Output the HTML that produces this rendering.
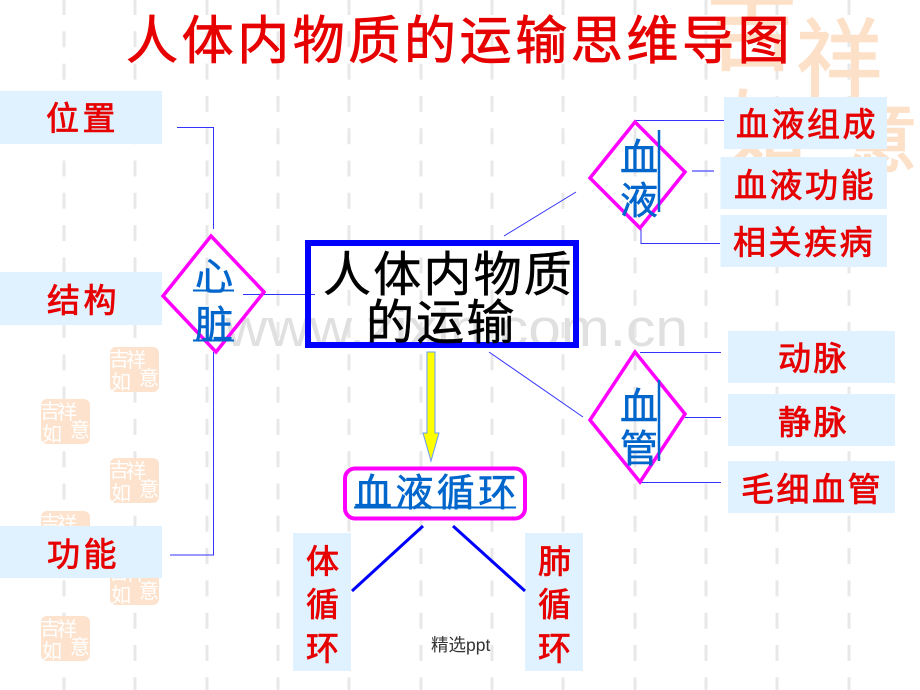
<!DOCTYPE html>
<html lang="zh"><head><meta charset="utf-8"><title>人体内物质的运输思维导图</title>
<style>
html,body{margin:0;padding:0;background:#fff}
svg{display:block}
text{font-family:"Liberation Sans","Noto Sans CJK SC","Noto Serif CJK SC",sans-serif}
.r{fill:#e60000;stroke:#e60000;stroke-width:.8px}
.bx{fill:#e0f2ff}
.l{stroke:#3333ff;stroke-width:1;fill:none}
.d{fill:none;stroke:#ff00ff;stroke-width:3.5}
.b{fill:#0066cc;stroke:#0066cc;stroke-width:.6px}
.s{fill:#fde3cd}
.sw{fill:#fff;font-size:20px}
.big{fill:#fde0c8;stroke:#fde0c8;stroke-width:1.5px}
</style></head><body>
<svg width="920" height="690" viewBox="0 0 920 690" xmlns="http://www.w3.org/2000/svg">
<rect width="920" height="690" fill="#fff"/>
<g stroke="#e8e8e8" stroke-width="3" stroke-dasharray="16 16.3" stroke-dashoffset="1">
<path d="M64 0V690M135 0V690M207 0V690M278 0V690M349 0V690M421 0V690M492 0V690M563 0V690M635 0V690M706 0V690M777 0V690M849 0V690"/>
</g>
<!-- big seal -->
<text class="big" x="706" y="62" font-size="92">吉</text>
<text class="big" x="796" y="90" font-size="86">祥</text>
<text class="big" x="722" y="160" font-size="84">如</text>
<text class="big" x="842" y="166" font-size="76">意</text>
<!-- stamps -->
<defs>
<g id="st">
<rect width="49" height="45" rx="6" class="s"/>
<text class="sw" x="-1" y="19">吉</text>
<text class="sw" x="16" y="20">祥</text>
<text class="sw" x="1" y="42">如</text>
<text class="sw" x="29" y="38">意</text>
</g>
</defs>
<use href="#st" x="110" y="347"/>
<use href="#st" x="41" y="399"/>
<use href="#st" x="110" y="458"/>
<use href="#st" x="41" y="511"/>
<use href="#st" x="110" y="560"/>
<use href="#st" x="41" y="616"/>
<!-- watermark -->
<text x="225" y="346" font-size="53" fill="#e0e0e0" textLength="463" lengthAdjust="spacingAndGlyphs">www.zixin.com.cn</text>
<!-- title -->
<text class="r" x="126" y="59" font-size="52" letter-spacing="3.6">人体内物质的运输思维导图</text>
<!-- boxes -->
<rect class="bx" x="0" y="91" width="162" height="53"/>
<rect class="bx" x="0" y="272" width="162" height="53"/>
<rect class="bx" x="0" y="526" width="162" height="52"/>
<rect class="bx" x="724" y="97" width="163" height="52"/>
<rect class="bx" x="720.5" y="157" width="166.5" height="52"/>
<rect class="bx" x="720.5" y="215" width="166.5" height="52"/>
<rect class="bx" x="728" y="331" width="167" height="52"/>
<rect class="bx" x="728" y="394" width="167" height="52"/>
<rect class="bx" x="728" y="461" width="167" height="52"/>
<rect class="bx" x="293" y="533" width="58" height="138"/>
<rect class="bx" x="525" y="533" width="58" height="138"/>
<!-- box labels -->
<g class="r" font-size="33">
<text x="46" y="130" letter-spacing="3.5">位置</text>
<text x="47" y="312" letter-spacing="3.5">结构</text>
<text x="47" y="566" letter-spacing="3.5">功能</text>
<text x="736" y="136" letter-spacing="2.5">血液组成</text>
<text x="734" y="197" letter-spacing="2.5">血液功能</text>
<text x="733" y="254" letter-spacing="2.5">相关疾病</text>
<text x="778" y="370" letter-spacing="2.5">动脉</text>
<text x="778" y="434" letter-spacing="2.5">静脉</text>
<text x="741" y="501" letter-spacing="2.5">毛细血管</text>
<text x="306" y="573">体</text>
<text x="306" y="616">循</text>
<text x="306" y="660">环</text>
<text x="538" y="573">肺</text>
<text x="538" y="616">循</text>
<text x="538" y="660">环</text>
</g>
<!-- thin connectors -->
<path class="l" d="M177 127.5H213.500V229M213.500 352V555H170"/>
<path class="l" d="M243 294.500H315M504 236L576 192M636 120.500H724M641 228V243.500H720M489 352L583 417M640 352.500H721M685 417.500H721M640 482.500H721"/>
<path d="M692 171H714" stroke="#6666ff" stroke-width="1.500"/>
<!-- diamonds -->
<path class="d" d="M211 236L264 292L216 352L163 296Z"/>
<path class="d" d="M635 122L685 172L640 228L590 178Z"/>
<path class="d" d="M635 352L685 414L640 482L590 420Z"/>
<!-- diamond text -->
<g class="b" font-size="38">
<text x="195" y="290">心</text>
<text x="195" y="338">脏</text>
<text x="620" y="171">血</text>
<text x="620" y="214">液</text>
<text x="620" y="420">血</text>
<text x="620" y="462">管</text>
</g>
<path d="M193 290.500H234M193 340.500H234" stroke="#0066cc" stroke-width="2"/>
<path d="M659 130V212M659 380V461" stroke="#0066cc" stroke-width="2.500"/>
<!-- center -->
<rect x="308" y="243" width="268" height="102" fill="none" stroke="#0000ff" stroke-width="6"/>
<text x="323" y="291" font-size="48" fill="#000" stroke="#000" stroke-width=".5" letter-spacing="2.200">人体内物质</text>
<text x="366" y="339" font-size="48" fill="#000" stroke="#000" stroke-width=".5" letter-spacing="2.200">的运输</text>
<!-- arrow -->
<path d="M427 352H435V433H439L431 461L423 433H427Z" fill="#ffff00" stroke="#6699ff" stroke-width="1"/>
<!-- circulation -->
<rect x="345" y="468.500" width="180" height="50" rx="10" fill="#fff" stroke="#ff00ff" stroke-width="4"/>
<text class="b" x="354" y="506" font-size="38" letter-spacing="3.400">血液循环</text>
<path d="M354 507.500H516" stroke="#0066cc" stroke-width="2"/>
<path d="M423 526L352 591M453 526L525 591" stroke="#0000ff" stroke-width="3" fill="none"/>
<text x="431" y="651" font-size="17.500" fill="#333">精选ppt</text>
</svg>
</body></html>
